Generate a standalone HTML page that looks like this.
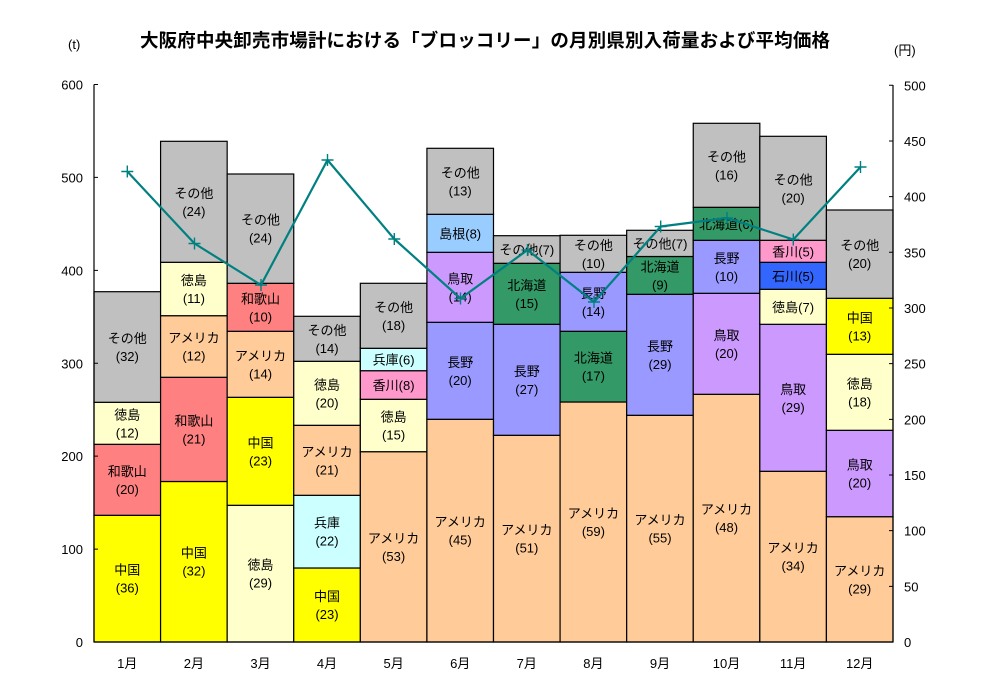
<!DOCTYPE html>
<html><head><meta charset="utf-8"><style>
html,body{margin:0;padding:0;background:#fff;}
svg{display:block;}
text{font-family:"Liberation Sans","Noto Sans CJK JP",sans-serif;fill:#000;}
</style></head><body>
<svg width="983" height="698" viewBox="0 0 983 698" xmlns="http://www.w3.org/2000/svg">
<rect x="0" y="0" width="983" height="698" fill="#fff"/>
<text x="485" y="47" font-size="18.5" font-weight="bold" text-anchor="middle" textLength="690" lengthAdjust="spacing">大阪府中央卸売市場計における「ブロッコリー」の月別県別入荷量および平均価格</text>
<text x="68" y="49" font-size="13">(t)</text>
<text x="894" y="55" font-size="13">(円)</text>

<g stroke="#000" stroke-width="1.2">
<!-- 1 -->
<rect x="94" y="515.3" width="66.58" height="126.7" fill="#FFFF00"/>
<rect x="94" y="444.3" width="66.58" height="71" fill="#FF8080"/>
<rect x="94" y="402.3" width="66.58" height="42" fill="#FFFFCC"/>
<rect x="94" y="291.7" width="66.58" height="110.6" fill="#C0C0C0"/>
<!-- 2 -->
<rect x="160.58" y="481.5" width="66.58" height="160.5" fill="#FFFF00"/>
<rect x="160.58" y="377.3" width="66.58" height="104.2" fill="#FF8080"/>
<rect x="160.58" y="315.7" width="66.58" height="61.6" fill="#FFCC99"/>
<rect x="160.58" y="262.3" width="66.58" height="53.4" fill="#FFFFCC"/>
<rect x="160.58" y="141.3" width="66.58" height="121" fill="#C0C0C0"/>
<!-- 3 -->
<rect x="227.17" y="505.3" width="66.58" height="136.7" fill="#FFFFCC"/>
<rect x="227.17" y="397.3" width="66.58" height="108" fill="#FFFF00"/>
<rect x="227.17" y="331.3" width="66.58" height="66" fill="#FFCC99"/>
<rect x="227.17" y="283.3" width="66.58" height="48" fill="#FF8080"/>
<rect x="227.17" y="174" width="66.58" height="109.3" fill="#C0C0C0"/>
<!-- 4 -->
<rect x="293.75" y="568" width="66.58" height="74" fill="#FFFF00"/>
<rect x="293.75" y="495.3" width="66.58" height="72.7" fill="#CCFFFF"/>
<rect x="293.75" y="425.3" width="66.58" height="70" fill="#FFCC99"/>
<rect x="293.75" y="361.3" width="66.58" height="64" fill="#FFFFCC"/>
<rect x="293.75" y="316.3" width="66.58" height="45" fill="#C0C0C0"/>
<!-- 5 -->
<rect x="360.33" y="451.7" width="66.58" height="190.3" fill="#FFCC99"/>
<rect x="360.33" y="399.3" width="66.58" height="52.4" fill="#FFFFCC"/>
<rect x="360.33" y="370.7" width="66.58" height="28.6" fill="#FF99CC"/>
<rect x="360.33" y="348.3" width="66.58" height="22.4" fill="#CCFFFF"/>
<rect x="360.33" y="283.3" width="66.58" height="65" fill="#C0C0C0"/>
<!-- 6 -->
<rect x="426.92" y="419.3" width="66.58" height="222.7" fill="#FFCC99"/>
<rect x="426.92" y="322.3" width="66.58" height="97" fill="#9999FF"/>
<rect x="426.92" y="252.3" width="66.58" height="70" fill="#CC99FF"/>
<rect x="426.92" y="214.3" width="66.58" height="38" fill="#99CCFF"/>
<rect x="426.92" y="148.3" width="66.58" height="66" fill="#C0C0C0"/>
<!-- 7 -->
<rect x="493.5" y="435.3" width="66.58" height="206.7" fill="#FFCC99"/>
<rect x="493.5" y="324.3" width="66.58" height="111" fill="#9999FF"/>
<rect x="493.5" y="263.3" width="66.58" height="61" fill="#339966"/>
<rect x="493.5" y="235.7" width="66.58" height="27.6" fill="#C0C0C0"/>
<!-- 8 -->
<rect x="560.08" y="402" width="66.58" height="240" fill="#FFCC99"/>
<rect x="560.08" y="331.3" width="66.58" height="70.7" fill="#339966"/>
<rect x="560.08" y="272.3" width="66.58" height="59" fill="#9999FF"/>
<rect x="560.08" y="235.3" width="66.58" height="37" fill="#C0C0C0"/>
<!-- 9 -->
<rect x="626.67" y="415.3" width="66.58" height="226.7" fill="#FFCC99"/>
<rect x="626.67" y="294.3" width="66.58" height="121" fill="#9999FF"/>
<rect x="626.67" y="256.5" width="66.58" height="37.8" fill="#339966"/>
<rect x="626.67" y="230.3" width="66.58" height="26.2" fill="#C0C0C0"/>
<!-- 10 -->
<rect x="693.25" y="394.3" width="66.58" height="247.7" fill="#FFCC99"/>
<rect x="693.25" y="293.3" width="66.58" height="101" fill="#CC99FF"/>
<rect x="693.25" y="240.3" width="66.58" height="53" fill="#9999FF"/>
<rect x="693.25" y="207.3" width="66.58" height="33" fill="#339966"/>
<rect x="693.25" y="123.3" width="66.58" height="84" fill="#C0C0C0"/>
<!-- 11 -->
<rect x="759.83" y="471.3" width="66.58" height="170.7" fill="#FFCC99"/>
<rect x="759.83" y="324.3" width="66.58" height="147" fill="#CC99FF"/>
<rect x="759.83" y="289.3" width="66.58" height="35" fill="#FFFFCC"/>
<rect x="759.83" y="262.3" width="66.58" height="27" fill="#3366FF"/>
<rect x="759.83" y="240.3" width="66.58" height="22" fill="#FF99CC"/>
<rect x="759.83" y="136.3" width="66.58" height="104" fill="#C0C0C0"/>
<!-- 12 -->
<rect x="826.42" y="516.7" width="66.58" height="125.3" fill="#FFCC99"/>
<rect x="826.42" y="430.3" width="66.58" height="86.4" fill="#CC99FF"/>
<rect x="826.42" y="354.3" width="66.58" height="76" fill="#FFFFCC"/>
<rect x="826.42" y="298.3" width="66.58" height="56" fill="#FFFF00"/>
<rect x="826.42" y="210" width="66.58" height="88.3" fill="#C0C0C0"/>
</g>

<g font-size="13" text-anchor="middle">
<!-- 1 -->
<text x="127.3" y="574.6">中国</text><text x="127.3" y="592.6">(36)</text>
<text x="127.3" y="475.8">和歌山</text><text x="127.3" y="493.8">(20)</text>
<text x="127.3" y="419.3">徳島</text><text x="127.3" y="437.3">(12)</text>
<text x="127.3" y="343">その他</text><text x="127.3" y="361">(32)</text>
<!-- 2 -->
<text x="193.9" y="557.7">中国</text><text x="193.9" y="575.7">(32)</text>
<text x="193.9" y="425.4">和歌山</text><text x="193.9" y="443.4">(21)</text>
<text x="193.9" y="342.5">アメリカ</text><text x="193.9" y="360.5">(12)</text>
<text x="193.9" y="285">徳島</text><text x="193.9" y="303">(11)</text>
<text x="193.9" y="197.8">その他</text><text x="193.9" y="215.8">(24)</text>
<!-- 3 -->
<text x="260.5" y="569.6">徳島</text><text x="260.5" y="587.6">(29)</text>
<text x="260.5" y="447.3">中国</text><text x="260.5" y="465.3">(23)</text>
<text x="260.5" y="360.3">アメリカ</text><text x="260.5" y="378.3">(14)</text>
<text x="260.5" y="303.3">和歌山</text><text x="260.5" y="321.3">(10)</text>
<text x="260.5" y="224.6">その他</text><text x="260.5" y="242.6">(24)</text>
<!-- 4 -->
<text x="327" y="601">中国</text><text x="327" y="619">(23)</text>
<text x="327" y="527.6">兵庫</text><text x="327" y="545.6">(22)</text>
<text x="327" y="456.3">アメリカ</text><text x="327" y="474.3">(21)</text>
<text x="327" y="389.3">徳島</text><text x="327" y="407.3">(20)</text>
<text x="327" y="334.8">その他</text><text x="327" y="352.8">(14)</text>
<!-- 5 -->
<text x="393.6" y="542.8">アメリカ</text><text x="393.6" y="560.8">(53)</text>
<text x="393.6" y="421.5">徳島</text><text x="393.6" y="439.5">(15)</text>
<text x="393.6" y="390">香川(8)</text>
<text x="393.6" y="364.5">兵庫(6)</text>
<text x="393.6" y="311.8">その他</text><text x="393.6" y="329.8">(18)</text>
<!-- 6 -->
<text x="460.2" y="526.6">アメリカ</text><text x="460.2" y="544.6">(45)</text>
<text x="460.2" y="366.8">長野</text><text x="460.2" y="384.8">(20)</text>
<text x="460.2" y="283.3">鳥取</text><text x="460.2" y="301.3">(14)</text>
<text x="460.2" y="238.3">島根(8)</text>
<text x="460.2" y="177.3">その他</text><text x="460.2" y="195.3">(13)</text>
<!-- 7 -->
<text x="526.8" y="534.6">アメリカ</text><text x="526.8" y="552.6">(51)</text>
<text x="526.8" y="375.8">長野</text><text x="526.8" y="393.8">(27)</text>
<text x="526.8" y="289.8">北海道</text><text x="526.8" y="307.8">(15)</text>
<text x="526.8" y="254.5">その他(7)</text>
<!-- 8 -->
<text x="593.4" y="518">アメリカ</text><text x="593.4" y="536">(59)</text>
<text x="593.4" y="362.6">北海道</text><text x="593.4" y="380.6">(17)</text>
<text x="593.4" y="297.8">長野</text><text x="593.4" y="315.8">(14)</text>
<text x="593.4" y="249.8">その他</text><text x="593.4" y="267.8">(10)</text>
<!-- 9 -->
<text x="660" y="524.6">アメリカ</text><text x="660" y="542.6">(55)</text>
<text x="660" y="350.8">長野</text><text x="660" y="368.8">(29)</text>
<text x="660" y="271.4">北海道</text><text x="660" y="289.4">(9)</text>
<text x="660" y="248.4">その他(7)</text>
<!-- 10 -->
<text x="726.5" y="514.1">アメリカ</text><text x="726.5" y="532.1">(48)</text>
<text x="726.5" y="339.8">鳥取</text><text x="726.5" y="357.8">(20)</text>
<text x="726.5" y="262.8">長野</text><text x="726.5" y="280.8">(10)</text>
<text x="726.5" y="228.8">北海道(6)</text>
<text x="726.5" y="161.3">その他</text><text x="726.5" y="179.3">(16)</text>
<!-- 11 -->
<text x="793.1" y="552.6">アメリカ</text><text x="793.1" y="570.6">(34)</text>
<text x="793.1" y="393.8">鳥取</text><text x="793.1" y="411.8">(29)</text>
<text x="793.1" y="311.8">徳島(7)</text>
<text x="793.1" y="280.8">石川(5)</text>
<text x="793.1" y="256.3">香川(5)</text>
<text x="793.1" y="184.3">その他</text><text x="793.1" y="202.3">(20)</text>
<!-- 12 -->
<text x="859.7" y="575.3">アメリカ</text><text x="859.7" y="593.3">(29)</text>
<text x="859.7" y="469.5">鳥取</text><text x="859.7" y="487.5">(20)</text>
<text x="859.7" y="388.3">徳島</text><text x="859.7" y="406.3">(18)</text>
<text x="859.7" y="322.3">中国</text><text x="859.7" y="340.3">(13)</text>
<text x="859.7" y="250.1">その他</text><text x="859.7" y="268.1">(20)</text>
<!-- months -->
<text x="127.3" y="668">1月</text>
<text x="193.9" y="668">2月</text>
<text x="260.5" y="668">3月</text>
<text x="327" y="668">4月</text>
<text x="393.6" y="668">5月</text>
<text x="460.2" y="668">6月</text>
<text x="526.8" y="668">7月</text>
<text x="593.4" y="668">8月</text>
<text x="660" y="668">9月</text>
<text x="726.5" y="668">10月</text>
<text x="793.1" y="668">11月</text>
<text x="859.7" y="668">12月</text>
</g>

<!-- axes -->
<g stroke="#000" stroke-width="1.2" fill="none">
<line x1="94" y1="84.5" x2="94" y2="642"/>
<line x1="893" y1="85" x2="893" y2="642"/>
<line x1="94" y1="642" x2="893" y2="642"/>
<path stroke-width="1" d="M94 549.08H98M94 456.17H98M94 363.25H98M94 270.33H98M94 177.42H98M94 84.5H98"/>
<path stroke-width="1" d="M889 586.33H893M889 530.66H893M889 474.99H893M889 419.32H893M889 363.65H893M889 307.98H893M889 252.31H893M889 196.64H893M889 140.97H893M889 85.3H893"/>
</g>
<g font-size="13" text-anchor="end">
<text x="83" y="647">0</text>
<text x="83" y="554.1">100</text>
<text x="83" y="461.2">200</text>
<text x="83" y="368.3">300</text>
<text x="83" y="275.3">400</text>
<text x="83" y="182.4">500</text>
<text x="83" y="89.5">600</text>
</g>
<g font-size="13" text-anchor="start">
<text x="904" y="647">0</text>
<text x="904" y="591.3">50</text>
<text x="904" y="535.7">100</text>
<text x="904" y="480">150</text>
<text x="904" y="424.3">200</text>
<text x="904" y="368.7">250</text>
<text x="904" y="313">300</text>
<text x="904" y="257.3">350</text>
<text x="904" y="201.6">400</text>
<text x="904" y="146">450</text>
<text x="904" y="90.3">500</text>
</g>

<!-- price line -->
<polyline fill="none" stroke="#008080" stroke-width="2.2" stroke-linejoin="round" points="127.3,171.5 194.5,243.5 261,285 327.5,160 394.3,239 460.5,298.5 527.5,250 594,302 660.7,226.5 727,218 793.3,239.5 860.5,167"/>
<path fill="none" stroke="#008080" stroke-width="1.4" d="M121.3 171.5H133.3M127.3 165.5V177.5M188.5 243.5H200.5M194.5 237.5V249.5M255 285H267M261 279V291M321.5 160H333.5M327.5 154V166M388.3 239H400.3M394.3 233V245M454.5 298.5H466.5M460.5 292.5V304.5M521.5 250H533.5M527.5 244V256M588 302H600M594 296V308M654.7 226.5H666.7M660.7 220.5V232.5M721 218H733M727 212V224M787.3 239.5H799.3M793.3 233.5V245.5M854.5 167H866.5M860.5 161V173"/>
</svg>
</body></html>
